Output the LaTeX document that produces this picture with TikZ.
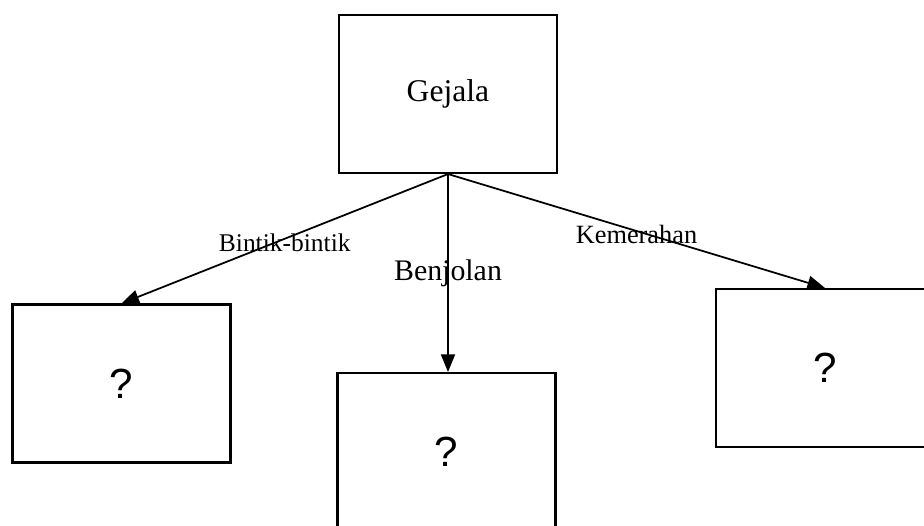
\documentclass[tikz,border=0pt]{standalone}
\usepackage{fontspec}
\setmainfont{Liberation Serif}
\newfontfamily\qfont{Liberation Sans}
\usetikzlibrary{arrows.meta}

\tikzset{
  kotak/.style={draw, line width=1.2pt, minimum width=4.36cm, minimum height=3.16cm, inner sep=0pt},
  panah/.style={line width=1pt, -{Triangle[length=10pt, width=8pt]}},
  label jalur/.style={midway, inner sep=0pt}
}

\begin{document}
\begin{tikzpicture}[x=0.02cm, y=-0.02cm]
            \clip (0,0) rectangle (924,526);
            
            % Simpul akar
            \node[kotak, font=\fontsize{18}{20}\selectfont] (gejala) at (448,94) {Gejala};
            
            % Simpul anak (belum diketahui)
            \node[kotak, font=\qfont\fontsize{24}{26}\selectfont] (kiri) at (121.5,383.5) {?};
            \node[kotak, font=\qfont\fontsize{24}{26}\selectfont] (tengah) at (446.5,452) {?};
            \node[kotak, font=\qfont\fontsize{24}{26}\selectfont] (kanan) at (825,368) {?};
            
            % Cabang dengan label di tengah garis
            \draw[panah] (gejala.south) -- (kiri.north) node[label jalur, yshift=-2.5pt, font=\fontsize{14.5}{16}\selectfont] {Bintik-bintik};
            \draw[panah] (gejala.south) -- (gejala.south |- tengah.north) node[label jalur, font=\fontsize{17}{19}\selectfont] {Benjolan};
            \draw[panah] (gejala.south) -- (kanan.north) node[label jalur, yshift=-2pt, font=\fontsize{15}{17}\selectfont] {Kemerahan};
\end{tikzpicture}
\end{document}
